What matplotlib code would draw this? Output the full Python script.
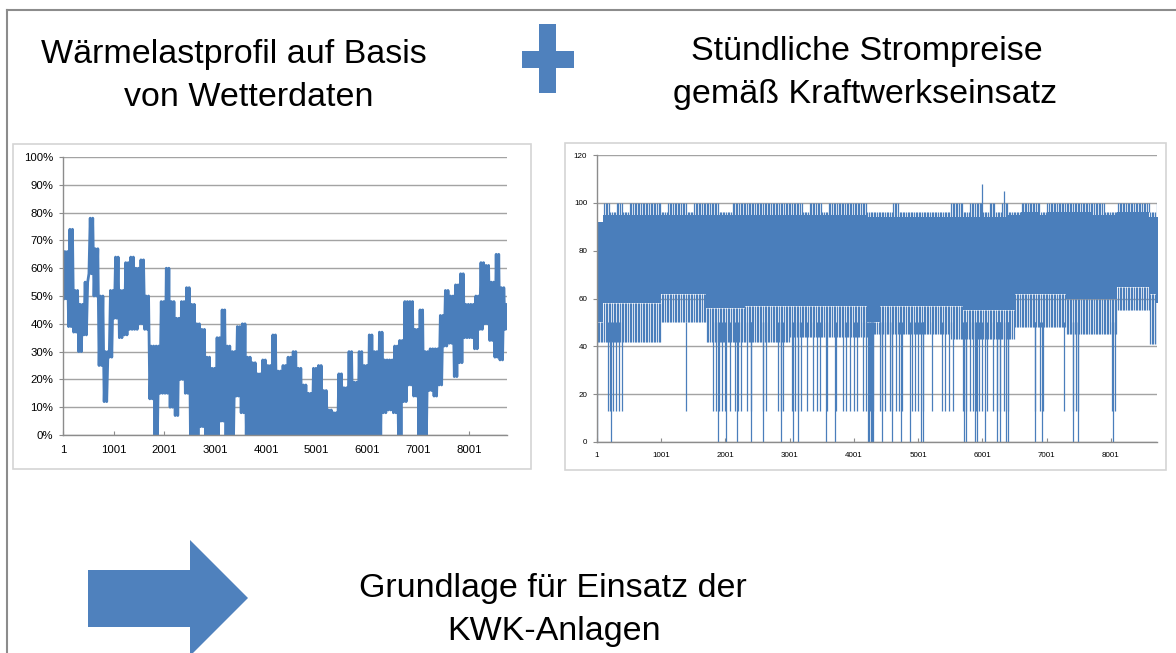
import numpy as np
import matplotlib
matplotlib.use("Agg")
from matplotlib import pyplot as plt
from matplotlib.patches import Rectangle, Polygon

plt.rcParams['font.family'] = ['Liberation Sans', 'DejaVu Sans']

BLAU = '#4a7ebb'
GITTER = '#a3a3a3'
ACHSE = '#8c8c8c'

# Wärmelastprofil: Min/Max je Block von 100 Stunden (in %)
waerme_min = [49, 39, 37, 30, 36, 58, 50, 25, 12, 28,
              42, 35, 36, 38, 38, 40, 38, 13, 0, 15,
              15, 10, 7, 20, 15, 0, 0, 3, 0, 0,
              0, 5, 0, 0, 14, 8, 0, 0, 0, 0,
              0, 0, 0, 0, 0, 0, 0, 0, 0, 0,
              0, 0, 0, 0, 0, 0, 0, 0, 0, 0,
              0, 0, 0, 8, 9, 8, 0, 12, 18, 14,
              0, 0, 16, 14, 18, 32, 33, 21, 26, 35,
              35, 31, 38, 40, 34, 28, 27, 38]
waerme_max = [66, 74, 52, 47, 55, 78, 67, 50, 30, 52,
              64, 52, 62, 64, 60, 63, 50, 32, 32, 48,
              60, 48, 42, 48, 53, 47, 40, 38, 28, 24,
              35, 45, 32, 30, 39, 40, 28, 26, 22, 27,
              25, 36, 23, 25, 28, 30, 24, 18, 15, 24,
              25, 16, 9, 8, 22, 17, 30, 19, 30, 25,
              36, 30, 37, 27, 27, 32, 34, 48, 48, 38,
              45, 30, 31, 31, 43, 52, 50, 54, 58, 47,
              47, 50, 62, 61, 55, 65, 53, 47]

# Stündliche Strompreise: Kennwerte je Block von 100 Stunden
preis_max = [90, 100, 96, 100, 96, 100, 100, 100, 100, 100,
             96, 100, 100, 100, 96, 100, 100, 100, 100, 96,
             96, 100, 100, 100, 100, 100, 100, 100, 100, 100,
             100, 100, 96, 100, 100, 96, 100, 100, 100, 100,
             100, 100, 96, 96, 96, 96, 100, 96, 96, 96,
             96, 96, 96, 96, 96, 100, 100, 96, 100, 100,
             96, 100, 96, 100, 96, 96, 100, 100, 100, 96,
             100, 100, 100, 100, 100, 100, 100, 100, 100, 96,
             96, 100, 100, 100, 100, 100, 96, 100]
preis_kern_oben = [92, 95, 95, 95, 95, 95, 95, 95, 95, 95,
                   95, 95, 95, 95, 95, 95, 95, 95, 95, 95,
                   95, 95, 95, 95, 95, 95, 95, 95, 95, 95,
                   95, 95, 95, 95, 95, 95, 95, 95, 95, 95,
                   95, 95, 94, 94, 94, 94, 94, 94, 94, 94,
                   94, 94, 94, 94, 94, 94, 94, 94, 94, 94,
                   94, 94, 94, 94, 95, 95, 96, 96, 96, 95,
                   96, 96, 96, 96, 96, 96, 96, 95, 95, 95,
                   95, 96, 96, 96, 96, 96, 94, 94]
preis_kern_unten = [50, 58, 58, 58, 58, 58, 58, 58, 58, 58,
                    62, 62, 62, 62, 62, 62, 62, 56, 56, 56,
                    56, 56, 56, 57, 57, 57, 57, 57, 57, 57,
                    57, 57, 57, 57, 57, 57, 57, 57, 57, 57,
                    57, 57, 50, 50, 57, 57, 57, 57, 57, 57,
                    57, 57, 57, 57, 57, 57, 57, 55, 55, 55,
                    55, 55, 55, 55, 55, 62, 62, 62, 62, 62,
                    62, 62, 62, 60, 60, 60, 60, 60, 60, 60,
                    60, 65, 65, 65, 65, 65, 62, 58]
preis_whisker = [42, 42, 42, 42, 42, 42, 42, 42, 42, 42,
                 50, 50, 50, 50, 50, 50, 50, 42, 42, 42,
                 42, 42, 42, 42, 42, 42, 42, 42, 42, 42,
                 44, 44, 44, 44, 44, 44, 44, 44, 44, 44,
                 44, 44, 44, 45, 45, 45, 45, 45, 45, 45,
                 45, 45, 45, 45, 45, 43, 43, 43, 43, 43,
                 43, 43, 43, 43, 43, 48, 48, 48, 48, 48,
                 48, 48, 48, 45, 45, 45, 45, 45, 45, 45,
                 45, 55, 55, 55, 55, 55, 41, 41]
dips_13 = [170, 200, 250, 300, 340, 390, 1385, 1800, 1850, 1900, 1950, 2000,
           2070, 2150, 2200, 2250, 2335, 2400, 2580, 2630, 2820, 2860, 2900,
           3030, 3080, 3130, 3180, 3270, 3360, 3420, 3470, 3580, 3720, 3830,
           3880, 3940, 4000, 4050, 4140, 4190, 4250, 4300, 4400, 4440, 4480,
           4560, 4600, 4650, 4700, 4750, 4900, 4950, 5000, 5070, 5210, 5370,
           5420, 5480, 5540, 5700, 5750, 5800, 5850, 5900, 5950, 6000, 6070,
           6160, 6230, 6280, 6330, 6400, 6820, 6900, 6950, 7270, 7410, 7450,
           7490, 8010, 8060]
dips_0 = [0, 220, 1880, 2010, 2180, 2400, 2580, 2860, 3050, 3130, 3560, 3700,
          4220, 4240, 4260, 4280, 4300, 4440, 4600, 4740, 4880, 5040, 5070,
          5710, 5750, 5880, 5910, 6040, 6230, 6280, 6360, 6400, 6820, 6930,
          7410, 7490, 8030]
spitzen_stunden = [5990, 6330]
spitzen_werte = [108, 105]

x_ticks = [1, 1001, 2001, 3001, 4001, 5001, 6001, 7001, 8001]

fig = plt.figure(figsize=(11.76, 6.53), dpi=100)

# Hintergrund in Pixelkoordinaten
bg = fig.add_axes([0, 0, 1, 1])
bg.set_xlim(0, 1176)
bg.set_ylim(653, 0)
bg.axis("off")
bg.plot([7, 1176], [10, 10], color=ACHSE, lw=1.5)
bg.plot([7, 7], [10, 653], color=ACHSE, lw=1.5)
bg.add_patch(Rectangle((13, 144), 518, 325, fill=False, ec='#d4d4d4', lw=1.2))
bg.add_patch(Rectangle((565, 143), 601, 327, fill=False, ec='#d4d4d4', lw=1.2))

# Plus-Zeichen und Pfeil
bg.add_patch(Rectangle((539, 24), 17, 69, color='#4f81bd', lw=0))
bg.add_patch(Rectangle((522, 51), 52, 17, color='#4f81bd', lw=0))
bg.add_patch(Polygon([(88, 570), (190, 570), (190, 540), (248, 598),
                      (190, 656), (190, 627), (88, 627)],
                     closed=True, color='#4f81bd', lw=0))

fs = 24.5
bg.text(234, 63, "Wärmelastprofil auf Basis", ha='center', va='baseline', fontsize=fs)
bg.text(249, 106, "von Wetterdaten", ha='center', va='baseline', fontsize=fs)
bg.text(867, 60, "Stündliche Strompreise", ha='center', va='baseline', fontsize=fs)
bg.text(865, 103, "gemäß Kraftwerkseinsatz", ha='center', va='baseline', fontsize=fs)
bg.text(553, 597, "Grundlage für Einsatz der", ha='center', va='baseline', fontsize=fs)
bg.text(554, 640, "KWK-Anlagen", ha='center', va='baseline', fontsize=fs)


def style(ax, fsize):
    for s in ['top', 'right']:
        ax.spines[s].set_visible(False)
    for s in ['left', 'bottom']:
        ax.spines[s].set_color(ACHSE)
        ax.spines[s].set_linewidth(1)
    ax.grid(axis='y', color=GITTER, lw=1)
    ax.set_axisbelow(True)
    ax.tick_params(axis='y', length=3, color=ACHSE, labelsize=fsize, pad=4)
    ax.tick_params(axis='x', length=3, direction='in', color=ACHSE,
                   labelsize=fsize, pad=7)
    ax.set_xticks(x_ticks)
    ax.set_xticklabels([str(t) for t in x_ticks])


# Linkes Diagramm: Wärmelast (zwei Ausschläge je Block)
ax1 = fig.add_axes([63 / 1176, (653 - 435) / 653, 444 / 1176, 278 / 653])
bins = np.arange(len(waerme_min)) * 100
xs = np.column_stack([bins + 12, bins + 37, bins + 62, bins + 87]).ravel()
ys = np.column_stack([waerme_min, waerme_max, waerme_min, waerme_max]).ravel() / 100
ax1.plot(xs, ys, color=BLAU, lw=2.0, solid_joinstyle='round')
ax1.set_xlim(1, 8750)
ax1.set_ylim(0, 1)
ax1.set_yticks(np.linspace(0, 1, 11))
ax1.set_yticklabels([f"{v}%" for v in range(0, 101, 10)])
style(ax1, 8.2)

# Rechtes Diagramm: Strompreise
ax2 = fig.add_axes([597 / 1176, (653 - 442) / 653, 560 / 1176, 287 / 653])
pbins = np.arange(len(preis_max)) * 100
edges = np.append(pbins, pbins[-1] + 100)
ax2.fill_between(edges, np.append(preis_kern_unten, preis_kern_unten[-1]),
                 np.append(preis_kern_oben, preis_kern_oben[-1]),
                 step='post', color=BLAU, lw=0)
for off in (10, 35, 60, 85):
    ax2.vlines(pbins + off, preis_kern_oben, preis_max, color=BLAU, lw=0.9)
    ax2.vlines(pbins + off, preis_whisker, preis_kern_unten, color=BLAU, lw=0.9)
ax2.vlines(dips_13, 13, 50, color=BLAU, lw=0.9)
ax2.vlines(dips_0, 0, 50, color=BLAU, lw=0.9)
ax2.vlines(spitzen_stunden, 90, spitzen_werte, color=BLAU, lw=0.9)
ax2.set_xlim(1, 8717)
ax2.set_ylim(0, 120)
ax2.set_yticks(range(0, 121, 20))
style(ax2, 5.8)

fig.savefig("out.png", dpi=100)
